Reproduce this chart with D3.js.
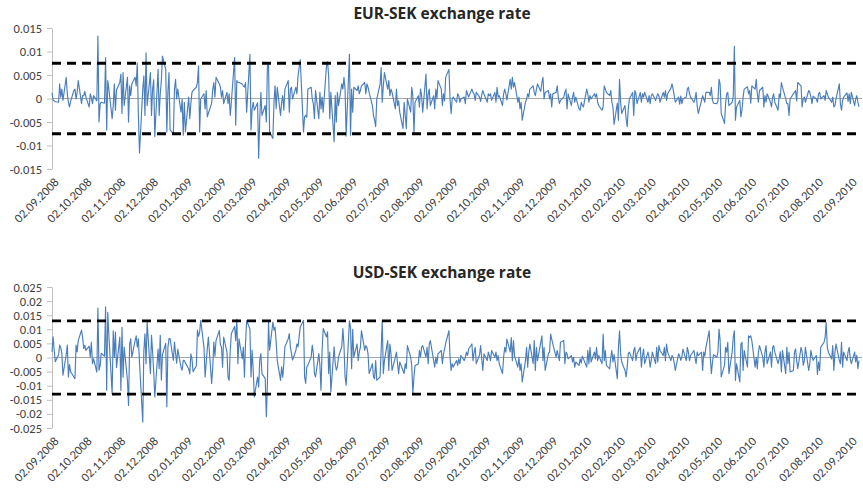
<!DOCTYPE html>
<html>
<head>
<meta charset="utf-8">
<script src="https://cdn.jsdelivr.net/npm/d3@7"></script>
<style>
  html, body { margin: 0; padding: 0; background: #fff; }
  svg { display: block; font-family: Carlito, Calibri, Lato, "Open Sans", sans-serif; }
</style>
</head>
<body>
<svg id="chart" width="863" height="489"></svg>
<script>
// Monthly tick labels on the date axis
const monthLabels = [
  "02.09.2008", "02.10.2008", "02.11.2008", "02.12.2008", "02.01.2009", "02.02.2009",
  "02.03.2009", "02.04.2009", "02.05.2009", "02.06.2009", "02.07.2009", "02.08.2009",
  "02.09.2009", "02.10.2009", "02.11.2009", "02.12.2009", "02.01.2010", "02.02.2010",
  "02.03.2010", "02.04.2010", "02.05.2010", "02.06.2010", "02.07.2010", "02.08.2010",
  "02.09.2010"
];

// Value-axis ticks of each panel
const eurTicks = [-0.015, -0.01, -0.005, 0, 0.005, 0.01, 0.015];
const usdTicks = [-0.025, -0.02, -0.015, -0.01, -0.005, 0, 0.005, 0.01, 0.015, 0.02, 0.025];

// Threshold bands (dashed lines at +/- value)
const eurBand = 0.0075;
const usdBand = 0.013;

// Daily returns of EUR-SEK, one line per month, trading days from 02.09.2008
const eurSek = [
  // 2008-09
  0.0012, -0.0003, -0.0005, -0.0007, -0.0008, 0.0031, 0.0003, 0.0020, -0.0004, 0.0045, 0.0010, -0.0008, -0.0018, -0.0006, 0.0017, 0.0020, -0.0001, 0.0013, 0.0038, -0.0011, 0.0006,
  // 2008-10
  0.0006, 0.0015, 0.0003, -0.0018, 0.0010, 0.0002, -0.0011, 0.0006, -0.0005, 0.0133, -0.0050, -0.0012, -0.0008, -0.0010, 0.0087, -0.0067, 0.0038, 0.0020, -0.0043, -0.0015, 0.0031, -0.0025, 0.0018,
  // 2008-11
  0.0034, 0.0052, -0.0032, 0.0055, -0.0015, 0.0045, -0.0050, 0.0027, 0.0006, 0.0031, 0.0045, 0.0027, 0.0076, -0.0036, -0.0116, 0.0020, 0.0048, -0.0036, 0.0097, -0.0015,
  // 2008-12
  0.0055, -0.0036, 0.0020, 0.0040, -0.0081, 0.0062, -0.0036, 0.0010, 0.0038, 0.0090, 0.0062, -0.0071, 0.0015, 0.0055, -0.0067, -0.0075, 0.0020, 0.0041, -0.0001, 0.0020, -0.0029, -0.0001, -0.0078,
  // 2009-01
  -0.0008, -0.0071, 0.0003, -0.0043, -0.0010, 0.0013, 0.0017, 0.0024, 0.0034, 0.0069, -0.0071, -0.0001, 0.0010, -0.0022, 0.0017, -0.0039, -0.0032, -0.0010, 0.0020, 0.0034, 0.0003, 0.0045,
  // 2009-02
  0.0031, 0.0024, 0.0003, 0.0017, -0.0011, 0.0013, -0.0011, 0.0010, -0.0036, -0.0008, 0.0087, -0.0057, 0.0038, 0.0034, 0.0034, 0.0031, 0.0027, 0.0024, 0.0034, -0.0029,
  // 2009-03
  0.0094, -0.0067, -0.0022, -0.0008, -0.0025, -0.0009, -0.0127, -0.0043, 0.0013, -0.0036, -0.0015, -0.0050, 0.0069, 0.0076, -0.0071, -0.0085, -0.0008, 0.0027, -0.0022, 0.0024, -0.0036, -0.0008,
  // 2009-04
  0.0006, -0.0025, 0.0020, 0.0038, -0.0029, 0.0020, 0.0024, -0.0001, 0.0024, 0.0010, 0.0048, 0.0066, 0.0083, -0.0071, -0.0039, -0.0036, -0.0040, 0.0020, 0.0024, -0.0001, -0.0011, -0.0043,
  // 2009-05
  0.0017, -0.0043, 0.0013, -0.0022, 0.0003, -0.0029, 0.0069, 0.0078, 0.0048, -0.0043, 0.0013, -0.0092, 0.0006, -0.0050, 0.0013, -0.0015, 0.0031, 0.0020, 0.0045, 0.0020, -0.0080,
  // 2009-06
  0.0094, -0.0078, 0.0020, -0.0029, 0.0024, 0.0017, 0.0027, 0.0010, 0.0017, 0.0027, 0.0034, 0.0010, 0.0031, 0.0024, 0.0013, -0.0015, -0.0036, -0.0046, -0.0060, -0.0001, 0.0030, 0.0066,
  // 2009-07
  -0.0008, 0.0027, 0.0055, 0.0020, 0.0038, 0.0006, 0.0020, 0.0013, -0.0022, 0.0020, -0.0015, -0.0005, -0.0029, -0.0064, -0.0008, -0.0035, -0.0064, -0.0001, -0.0029, 0.0024, 0.0005, -0.0074, -0.0008,
  // 2009-08
  0.0006, -0.0018, 0.0020, 0.0006, -0.0029, 0.0052, -0.0022, 0.0010, 0.0020, -0.0015, 0.0006, -0.0022, 0.0020, -0.0001, 0.0038, 0.0020, -0.0015, 0.0010, -0.0005, 0.0045, 0.0062,
  // 2009-09
  -0.0001, -0.0032, -0.0001, 0.0003, -0.0008, 0.0010, 0.0006, -0.0008, -0.0001, 0.0003, -0.0011, 0.0017, 0.0010, 0.0003, 0.0020, 0.0013, 0.0010, -0.0004, 0.0013, 0.0003, -0.0006, 0.0008,
  // 2009-10
  0.0017, 0.0010, -0.0008, 0.0010, 0.0006, 0.0010, -0.0004, 0.0013, -0.0008, 0.0024, 0.0003, 0.0006, -0.0015, 0.0010, 0.0020, 0.0010, -0.0003, 0.0041, 0.0020, 0.0045, 0.0024, 0.0034,
  // 2009-11
  -0.0008, 0.0003, -0.0022, -0.0008, -0.0046, -0.0008, -0.0001, 0.0010, 0.0003, 0.0020, 0.0027, 0.0013, 0.0006, 0.0020, 0.0031, 0.0015, 0.0034, 0.0045, -0.0001, 0.0013, 0.0017,
  // 2009-12
  -0.0001, 0.0010, -0.0018, 0.0010, 0.0013, 0.0027, 0.0003, -0.0011, -0.0004, 0.0003, 0.0013, 0.0020, -0.0022, 0.0010, -0.0015, 0.0003, 0.0013, -0.0008, 0.0003, -0.0022, -0.0025, -0.0008, -0.0015,
  // 2010-01
  -0.0018, 0.0020, 0.0010, -0.0008, 0.0006, -0.0001, 0.0010, 0.0003, 0.0010, -0.0008, -0.0015, -0.0025, -0.0018, 0.0027, 0.0020, 0.0013, 0.0006, 0.0017, -0.0008, -0.0018, -0.0055,
  // 2010-02
  -0.0010, -0.0046, 0.0041, -0.0008, -0.0032, -0.0015, -0.0043, -0.0060, -0.0022, -0.0001, 0.0013, -0.0036, 0.0017, 0.0010, -0.0011, 0.0013, -0.0008, 0.0010, 0.0003, 0.0013,
  // 2010-03
  -0.0008, 0.0006, -0.0011, 0.0006, 0.0010, -0.0004, 0.0003, 0.0010, 0.0006, -0.0008, 0.0013, 0.0003, 0.0017, -0.0004, 0.0010, 0.0022, 0.0031, 0.0020, 0.0006, -0.0008, 0.0003, -0.0012, 0.0005,
  // 2010-04
  -0.0011, -0.0001, 0.0003, 0.0020, 0.0024, 0.0010, 0.0003, -0.0008, -0.0001, 0.0013, -0.0015, -0.0032, -0.0004, 0.0006, -0.0001, -0.0008, 0.0013, 0.0013, 0.0006, 0.0024, -0.0004, -0.0010,
  // 2010-05
  -0.0011, -0.0005, 0.0041, 0.0031, -0.0032, -0.0053, -0.0011, 0.0010, 0.0013, -0.0015, -0.0008, 0.0005, 0.0111, -0.0046, -0.0018, -0.0004, -0.0039, -0.0025, 0.0003, 0.0020, 0.0025,
  // 2010-06
  0.0010, 0.0017, -0.0010, 0.0027, 0.0020, 0.0041, 0.0010, -0.0008, 0.0017, 0.0024, -0.0018, 0.0006, -0.0008, 0.0010, -0.0008, -0.0018, 0.0003, 0.0010, -0.0008, -0.0025, 0.0010, 0.0002,
  // 2010-07
  0.0034, 0.0024, -0.0001, -0.0011, -0.0011, -0.0036, -0.0001, 0.0010, 0.0013, 0.0017, -0.0005, 0.0034, 0.0027, -0.0018, -0.0001, 0.0003, -0.0008, 0.0017, 0.0013, 0.0003, -0.0011, 0.0005,
  // 2010-08
  -0.0001, -0.0008, 0.0010, 0.0013, -0.0001, 0.0006, -0.0004, 0.0017, 0.0010, 0.0003, -0.0008, 0.0003, -0.0018, -0.0015, -0.0001, 0.0031, -0.0011, -0.0025, -0.0004, 0.0003, 0.0012, -0.0006,
  // 2010-09
  0.0010, -0.0011, 0.0013, -0.0015, -0.0001, 0.0006, -0.0008, -0.0018
];

// Daily returns of USD-SEK, same trading days
const usdSek = [
  // 2008-09
  0.0020, 0.0073, 0.0026, -0.0015, 0.0010, 0.0044, 0.0035, 0.0015, -0.0063, 0.0010, 0.0044, -0.0069, -0.0025, -0.0050, -0.0069, -0.0075, 0.0044, 0.0020, 0.0060, 0.0097, 0.0070,
  // 2008-10
  0.0032, 0.0043, 0.0025, 0.0040, 0.0001, 0.0054, -0.0022, -0.0005, -0.0052, 0.0175, -0.0045, -0.0030, 0.0015, 0.0005, 0.0180, -0.0116, 0.0160, 0.0080, -0.0128, 0.0095, 0.0000, 0.0090, -0.0035,
  // 2008-11
  0.0072, -0.0117, 0.0107, -0.0070, 0.0037, -0.0081, -0.0170, 0.0048, 0.0066, 0.0001, 0.0060, 0.0077, 0.0037, 0.0066, -0.0016, -0.0229, 0.0025, 0.0084, -0.0022, 0.0127,
  // 2008-12
  -0.0057, 0.0079, 0.0020, -0.0050, -0.0140, 0.0030, -0.0040, 0.0079, -0.0080, 0.0010, 0.0050, -0.0175, 0.0035, 0.0067, 0.0067, -0.0010, 0.0055, 0.0015, -0.0020, 0.0030, -0.0035, -0.0045, -0.0010,
  // 2009-01
  -0.0011, -0.0020, -0.0040, -0.0058, 0.0013, -0.0005, -0.0050, -0.0030, 0.0097, 0.0075, 0.0090, 0.0132, 0.0035, -0.0069, -0.0020, 0.0030, 0.0072, -0.0092, -0.0035, 0.0055, 0.0005, 0.0060,
  // 2009-02
  0.0096, 0.0045, 0.0037, -0.0034, 0.0072, 0.0019, -0.0070, -0.0081, 0.0025, 0.0084, 0.0110, 0.0060, 0.0135, -0.0022, 0.0066, -0.0005, 0.0037, -0.0070, 0.0054, 0.0131,
  // 2009-03
  0.0100, -0.0069, 0.0026, -0.0045, -0.0140, -0.0069, -0.0105, -0.0010, 0.0014, -0.0057, -0.0075, -0.0210, -0.0092, 0.0126, 0.0026, 0.0126, 0.0097, 0.0107, 0.0055, -0.0010, -0.0081, -0.0033,
  // 2009-04
  -0.0070, -0.0022, 0.0038, 0.0066, 0.0085, 0.0038, 0.0014, -0.0009, 0.0025, 0.0048, 0.0038, 0.0073, 0.0107, 0.0132, -0.0069, -0.0092, -0.0033, -0.0027, 0.0002, 0.0044, 0.0014, -0.0057,
  // 2009-05
  -0.0069, 0.0014, -0.0027, -0.0116, 0.0026, 0.0103, 0.0073, 0.0091, -0.0057, 0.0019, -0.0122, 0.0038, -0.0021, -0.0045, -0.0033, 0.0002, 0.0038, 0.0103, 0.0044, -0.0069, -0.0098,
  // 2009-06
  0.0130, 0.0106, -0.0040, 0.0100, 0.0001, 0.0048, -0.0011, 0.0019, 0.0036, 0.0095, 0.0025, 0.0042, 0.0036, 0.0013, -0.0057, -0.0022, -0.0069, -0.0075, -0.0011, -0.0081, -0.0069, 0.0026,
  // 2009-07
  0.0130, -0.0057, -0.0011, 0.0060, -0.0046, 0.0048, 0.0013, -0.0046, 0.0001, 0.0019, -0.0022, -0.0057, -0.0016, -0.0046, -0.0057, -0.0022, -0.0040, 0.0042, 0.0001, -0.0030, -0.0127, -0.0069, -0.0029,
  // 2009-08
  -0.0022, 0.0025, 0.0001, 0.0036, 0.0042, 0.0001, 0.0036, -0.0022, 0.0048, 0.0060, -0.0011, -0.0034, 0.0001, -0.0022, 0.0013, 0.0025, -0.0022, 0.0013, 0.0030, 0.0050, 0.0095,
  // 2009-09
  0.0001, -0.0046, -0.0022, -0.0034, -0.0011, -0.0028, -0.0005, -0.0022, 0.0007, -0.0011, 0.0001, 0.0019, 0.0007, 0.0030, 0.0048, -0.0011, 0.0019, 0.0036, -0.0022, 0.0010, 0.0042, -0.0005,
  // 2009-10
  -0.0046, 0.0013, -0.0011, 0.0019, 0.0007, -0.0011, 0.0025, 0.0001, 0.0019, -0.0011, 0.0007, -0.0022, -0.0057, 0.0001, 0.0036, 0.0019, 0.0065, 0.0020, 0.0071, -0.0011, 0.0060, 0.0005,
  // 2009-11
  -0.0034, 0.0001, -0.0046, -0.0022, -0.0087, -0.0011, 0.0036, -0.0034, 0.0019, 0.0048, -0.0022, 0.0060, -0.0046, 0.0036, -0.0011, 0.0054, 0.0077, -0.0011, 0.0036, -0.0046, 0.0015,
  // 2009-12
  0.0019, 0.0083, 0.0065, 0.0048, 0.0001, 0.0025, 0.0007, -0.0011, 0.0054, 0.0060, -0.0022, 0.0019, 0.0013, -0.0005, 0.0007, -0.0016, 0.0001, -0.0034, -0.0016, -0.0028, -0.0005, -0.0020, 0.0005,
  // 2010-01
  -0.0005, -0.0034, 0.0025, -0.0022, 0.0036, -0.0016, 0.0019, -0.0005, 0.0036, -0.0011, 0.0007, -0.0022, 0.0083, -0.0011, 0.0025, -0.0028, -0.0040, 0.0001, 0.0025, -0.0016, 0.0010,
  // 2010-02
  -0.0075, 0.0036, 0.0095, 0.0013, -0.0016, -0.0046, -0.0069, -0.0034, 0.0013, 0.0019, -0.0011, 0.0025, 0.0036, -0.0011, 0.0013, 0.0036, -0.0034, 0.0007, 0.0030, -0.0022,
  // 2010-03
  0.0019, 0.0001, -0.0034, -0.0011, 0.0019, -0.0022, 0.0036, -0.0016, 0.0042, 0.0025, 0.0007, 0.0036, -0.0011, 0.0048, 0.0019, -0.0011, 0.0007, 0.0001, -0.0020, -0.0046, 0.0013, 0.0005, -0.0010,
  // 2010-04
  0.0001, 0.0030, -0.0011, 0.0036, 0.0019, -0.0011, 0.0007, 0.0025, 0.0001, -0.0022, 0.0019, 0.0007, 0.0019, -0.0046, 0.0019, 0.0005, 0.0036, 0.0095, 0.0001, -0.0057, -0.0016, 0.0010,
  // 2010-05
  0.0001, 0.0020, 0.0101, 0.0060, -0.0069, -0.0028, 0.0036, 0.0019, 0.0054, -0.0057, 0.0019, 0.0071, 0.0095, -0.0081, -0.0022, -0.0087, 0.0048, 0.0054, -0.0046, 0.0025, -0.0034,
  // 2010-06
  0.0077, 0.0071, 0.0077, 0.0060, -0.0034, 0.0001, -0.0040, 0.0019, 0.0042, 0.0001, -0.0034, 0.0019, 0.0042, -0.0022, 0.0019, -0.0034, 0.0036, 0.0042, 0.0019, -0.0022, -0.0005, 0.0020,
  // 2010-07
  -0.0051, 0.0025, -0.0057, 0.0036, -0.0022, 0.0019, -0.0051, -0.0046, 0.0019, 0.0030, -0.0011, -0.0040, 0.0036, 0.0019, -0.0028, -0.0011, 0.0036, -0.0046, -0.0022, 0.0025, 0.0005, -0.0010,
  // 2010-08
  0.0007, -0.0060, -0.0016, -0.0046, 0.0036, 0.0054, 0.0071, 0.0124, 0.0036, 0.0019, -0.0005, 0.0042, -0.0046, 0.0019, 0.0048, -0.0011, -0.0022, 0.0054, -0.0034, 0.0019, -0.0011, 0.0020,
  // 2010-09
  0.0036, -0.0005, -0.0022, 0.0019, -0.0016, 0.0008, -0.0040, -0.0011
];

const parseLabel = d3.timeParse("%d.%m.%Y");
const formatLabel = d3.timeFormat("%d.%m.%Y");
const tickDates = monthLabels.map(parseLabel);

// Trading days (Mon-Fri) starting at the first label date
function tradingDays(count) {
  const out = [];
  let d = new Date(tickDates[0]);
  while (out.length < count) {
    const wd = d.getDay();
    if (wd !== 0 && wd !== 6) out.push(new Date(d));
    d = d3.timeDay.offset(d, 1);
  }
  return out;
}

const svg = d3.select("#chart");
const plotLeft = 52, plotRight = 862;
const textColor = "#404040";
const axisColor = "#bfbfbf";
const labelFont = "Carlito, Calibri, Lato, sans-serif";

const panels = [
  { title: "EUR-SEK exchange rate", values: eurSek, ticks: eurTicks, band: eurBand, top: 28, bottom: 169, titleY: 19 },
  { title: "USD-SEK exchange rate", values: usdSek, ticks: usdTicks, band: usdBand, top: 287, bottom: 428, titleY: 278 }
];

panels.forEach(p => {
  const dates = tradingDays(p.values.length);
  const x = d3.scaleTime()
    .domain([tickDates[0], dates[dates.length - 1]])
    .range([plotLeft, 859]);
  const y = d3.scaleLinear()
    .domain([p.ticks[0], p.ticks[p.ticks.length - 1]])
    .range([p.bottom, p.top]);

  const g = svg.append("g");

  // title
  g.append("text")
    .attr("x", 442).attr("y", p.titleY)
    .attr("text-anchor", "middle")
    .attr("font-family", "'Open Sans', Lato, sans-serif")
    .attr("font-size", 15.5).attr("font-weight", "bold")
    .attr("fill", "#262626")
    .text(p.title);

  // value axis
  const yAxis = g.append("g")
    .attr("transform", `translate(${plotLeft},0)`)
    .call(d3.axisLeft(y).tickValues(p.ticks).tickFormat(d => String(d))
      .tickSize(5).tickSizeOuter(0).tickPadding(5));
  yAxis.select(".domain").attr("stroke", axisColor);
  yAxis.selectAll(".tick line").attr("stroke", axisColor);
  yAxis.selectAll(".tick text")
    .attr("fill", textColor).attr("font-size", 12.5)
    .attr("font-family", labelFont);

  // date axis labels
  const xAxis = g.append("g")
    .attr("transform", `translate(0,${p.bottom})`)
    .call(d3.axisBottom(x).tickValues(tickDates).tickFormat(formatLabel).tickSize(0));
  xAxis.select(".domain").remove();
  xAxis.selectAll(".tick text")
    .attr("x", 0).attr("y", 0).attr("dy", "0.35em")
    .attr("text-anchor", "end")
    .attr("transform", "translate(4,11) rotate(-45)")
    .attr("fill", textColor).attr("font-size", 12.5)
    .attr("font-family", labelFont);

  // zero line
  g.append("line")
    .attr("x1", plotLeft).attr("x2", plotRight)
    .attr("y1", y(0)).attr("y2", y(0))
    .attr("stroke", "#a6a6a6").attr("stroke-width", 1);

  // return series
  const line = d3.line()
    .x((d, i) => x(dates[i]))
    .y(d => y(d));
  g.append("path")
    .datum(p.values)
    .attr("d", line)
    .attr("fill", "none")
    .attr("stroke", "#4a7ebb")
    .attr("stroke-width", 1.15)
    .attr("stroke-linejoin", "round");

  // threshold bands
  [p.band, -p.band].forEach(b => {
    g.append("line")
      .attr("x1", plotLeft).attr("x2", plotRight)
      .attr("y1", y(b)).attr("y2", y(b))
      .attr("stroke", "#000").attr("stroke-width", 2.8)
      .attr("stroke-dasharray", "9,6");
  });
});
</script>
</body>
</html>
